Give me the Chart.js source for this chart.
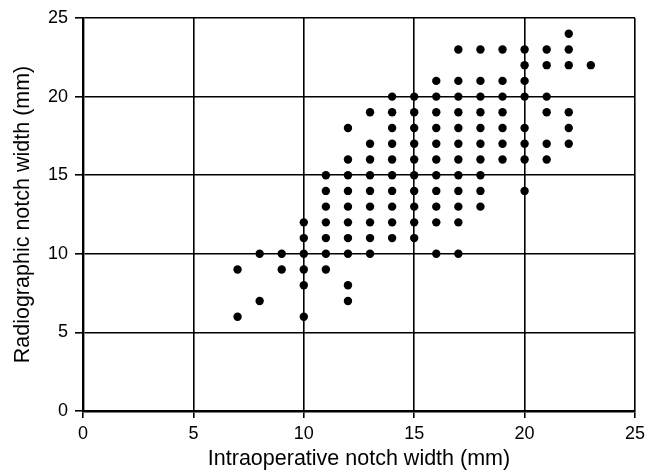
<!DOCTYPE html>
<html>
<head>
<meta charset="utf-8">
<script src="https://cdn.jsdelivr.net/npm/chart.js@4/dist/chart.umd.min.js"></script>
<style>
html,body{margin:0;padding:0;background:#fff;}
#wrap{width:664px;height:472px;position:relative;}
</style>
</head>
<body>
<div id="wrap"><canvas id="c" width="664" height="472"></canvas></div>
<script>
// Intraoperative notch width (mm) columns and the radiographic widths observed at each
const intraopWidths = [7, 8, 9, 10, 11, 12, 13, 14, 15, 16, 17, 18, 19, 20, 21, 22, 23];
const radioAt7  = [9, 6];
const radioAt8  = [10, 7];
const radioAt9  = [10, 9];
const radioAt10 = [12, 11, 10, 9, 8, 6];
const radioAt11 = [15, 14, 13, 12, 11, 10, 9];
const radioAt12 = [18, 16, 15, 14, 13, 12, 11, 10, 8, 7];
const radioAt13 = [19, 17, 16, 15, 14, 13, 12, 11, 10];
const radioAt14 = [20, 19, 18, 17, 16, 15, 14, 13, 12, 11];
const radioAt15 = [20, 19, 18, 17, 16, 15, 14, 13, 12, 11];
const radioAt16 = [21, 20, 19, 18, 17, 16, 15, 14, 13, 12, 10];
const radioAt17 = [23, 21, 20, 19, 18, 17, 16, 15, 14, 13, 12, 10];
const radioAt18 = [23, 21, 20, 19, 18, 17, 16, 15, 14, 13];
const radioAt19 = [23, 21, 20, 19, 18, 17, 16];
const radioAt20 = [23, 22, 21, 20, 18, 17, 16, 14];
const radioAt21 = [23, 22, 20, 19, 17, 16];
const radioAt22 = [24, 23, 22, 19, 18, 17];
const radioAt23 = [22];
const radioColumns = [radioAt7, radioAt8, radioAt9, radioAt10, radioAt11, radioAt12, radioAt13,
  radioAt14, radioAt15, radioAt16, radioAt17, radioAt18, radioAt19, radioAt20, radioAt21, radioAt22, radioAt23];
const tickValues = [0, 5, 10, 15, 20, 25];
const xTitle = 'Intraoperative notch width (mm)';
const yTitle = 'Radiographic notch width (mm)';

const points = [];
intraopWidths.forEach((x, i) => radioColumns[i].forEach(y => points.push({x: x, y: y})));

const FONT = '"Liberation Sans", Arial, Helvetica, sans-serif';

new Chart(document.getElementById('c'), {
  type: 'scatter',
  data: {
    datasets: [{
      data: points,
      backgroundColor: '#000',
      borderWidth: 0,
      pointRadius: 4.2,
      pointHoverRadius: 4.2
    }]
  },
  options: {
    responsive: false,
    animation: false,
    devicePixelRatio: 1,
    layout: {padding: {left: 0, right: 29, top: 18, bottom: 0}},
    plugins: {legend: {display: false}, tooltip: {enabled: false}},
    scales: {
      x: {
        type: 'linear', min: 0, max: 25,
        afterBuildTicks: s => { s.ticks = tickValues.map(v => ({value: v})); },
        afterFit: s => { s.height = 61; },
        grid: {color: '#000', lineWidth: 1.6, tickLength: 7, tickColor: '#000', tickWidth: 1.6},
        border: {color: '#000', width: 2.4},
        ticks: {color: '#000', font: {family: FONT, size: 18}, padding: 5, maxRotation: 0},
        title: {display: true, text: xTitle, color: '#000', font: {family: FONT, size: 21.5}, padding: {top: 0, bottom: 0}}
      },
      y: {
        type: 'linear', min: 0, max: 25,
        afterBuildTicks: s => { s.ticks = tickValues.map(v => ({value: v})); },
        afterFit: s => { s.width = 83; },
        grid: {color: '#000', lineWidth: 1.6, tickLength: 8, tickColor: '#000', tickWidth: 1.6},
        border: {color: '#000', width: 2.4},
        ticks: {color: '#000', font: {family: FONT, size: 18}, padding: 7},
        title: {display: true, text: yTitle, color: '#000', font: {family: FONT, size: 21.5}, padding: {top: 10, bottom: 0}}
      }
    }
  }
});
</script>
</body>
</html>
